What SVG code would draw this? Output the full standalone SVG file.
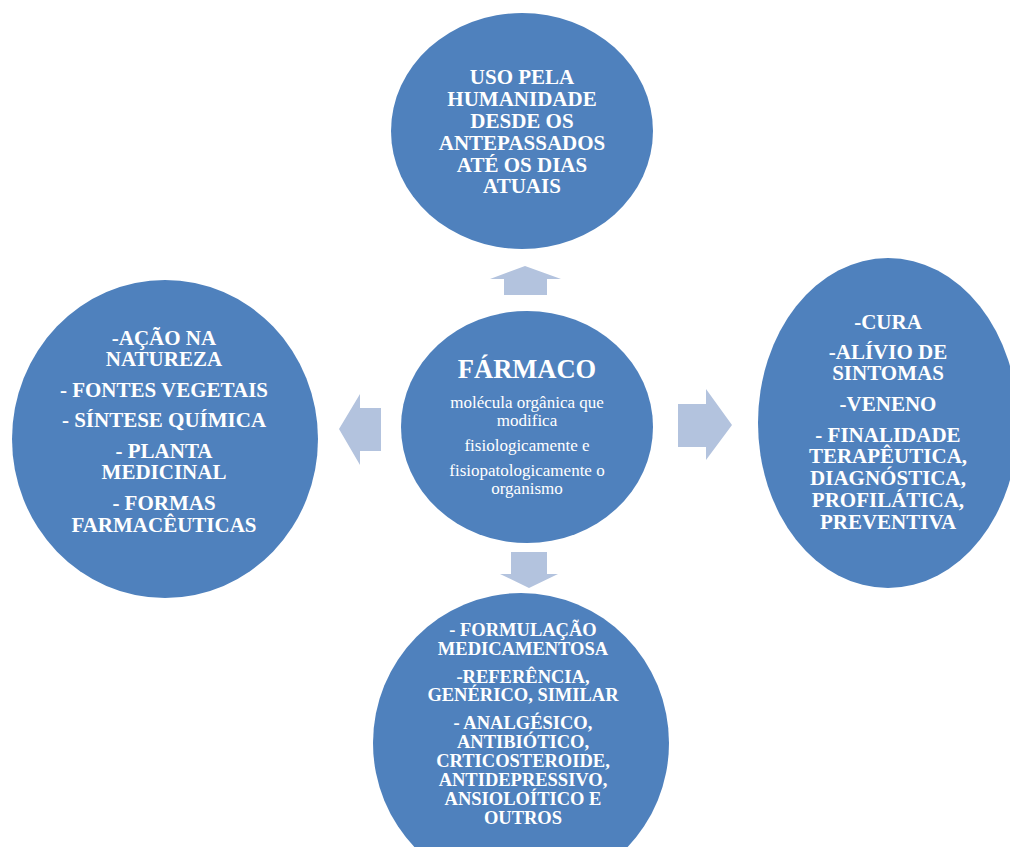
<svg xmlns="http://www.w3.org/2000/svg" width="1010" height="847" viewBox="0 0 1010 847">
<style>
.node{fill:#4F81BD;}
.arr{fill:#B3C3DE;}
.t{font-family:"Liberation Serif","Times New Roman",serif;font-weight:bold;fill:#fff;text-anchor:middle;font-size:21px;}
.s{font-family:"Liberation Serif","Times New Roman",serif;fill:#fff;text-anchor:middle;font-size:17px;}
.b{font-size:18.5px;}
</style>
<rect width="1010" height="847" fill="#fff"/>
<g id="connectors">
<polygon class="arr" points="525,266 561,279 547,279 547,295 504,295 504,279 490,279"/>
<polygon class="arr" points="339,429 360,394 360,408 381,408 381,451 360,451 360,465"/>
<polygon class="arr" points="732,425 706,460 706,447 678,447 678,404 706,404 706,389"/>
<polygon class="arr" points="529,588 558,574 547,574 547,552 511,552 511,574 500,574"/>
</g>
<g id="top">
<ellipse class="node" cx="522" cy="131" rx="131" ry="118"/>
<text class="t" x="522" y="84">USO PELA</text>
<text class="t" x="522" y="106">HUMANIDADE</text>
<text class="t" x="522" y="128">DESDE OS</text>
<text class="t" x="522" y="150">ANTEPASSADOS</text>
<text class="t" x="522" y="172">ATÉ OS DIAS</text>
<text class="t" x="522" y="193">ATUAIS</text>
</g>
<g id="left">
<ellipse class="node" cx="165" cy="439" rx="153" ry="159"/>
<text class="t" x="164" y="345">-AÇÃO NA</text>
<text class="t" x="164" y="366">NATUREZA</text>
<text class="t" x="164" y="397">- FONTES VEGETAIS</text>
<text class="t" x="164" y="427">- SÍNTESE QUÍMICA</text>
<text class="t" x="164" y="458">- PLANTA</text>
<text class="t" x="164" y="479">MEDICINAL</text>
<text class="t" x="164" y="510">- FORMAS</text>
<text class="t" x="164" y="532">FARMACÊUTICAS</text>
</g>
<g id="center">
<ellipse class="node" cx="527" cy="427" rx="126" ry="116"/>
<text class="t" x="527" y="378" style="font-size:26.5px">FÁRMACO</text>
<text class="s" x="527" y="408">molécula orgânica que</text>
<text class="s" x="527" y="426">modifica</text>
<text class="s" x="527" y="451">fisiologicamente e</text>
<text class="s" x="527" y="476">fisiopatologicamente o</text>
<text class="s" x="527" y="494">organismo</text>
</g>
<g id="right">
<ellipse class="node" cx="888" cy="423" rx="130" ry="165"/>
<text class="t" x="888" y="329">-CURA</text>
<text class="t" x="888" y="359">-ALÍVIO DE</text>
<text class="t" x="888" y="380">SINTOMAS</text>
<text class="t" x="888" y="411">-VENENO</text>
<text class="t" x="888" y="442">- FINALIDADE</text>
<text class="t" x="888" y="463">TERAPÊUTICA,</text>
<text class="t" x="888" y="485">DIAGNÓSTICA,</text>
<text class="t" x="888" y="507">PROFILÁTICA,</text>
<text class="t" x="888" y="529">PREVENTIVA</text>
</g>
<g id="bottom">
<ellipse class="node" cx="521" cy="743" rx="148" ry="150"/>
<text class="t b" x="523" y="636">- FORMULAÇÃO</text>
<text class="t b" x="523" y="655">MEDICAMENTOSA</text>
<text class="t b" x="523" y="683">-REFERÊNCIA,</text>
<text class="t b" x="523" y="701">GENÉRICO, SIMILAR</text>
<text class="t b" x="523" y="729">- ANALGÉSICO,</text>
<text class="t b" x="523" y="748">ANTIBIÓTICO,</text>
<text class="t b" x="523" y="767">CRTICOSTEROIDE,</text>
<text class="t b" x="523" y="786">ANTIDEPRESSIVO,</text>
<text class="t b" x="523" y="805">ANSIOLOÍTICO E</text>
<text class="t b" x="523" y="824">OUTROS</text>
</g>
</svg>
